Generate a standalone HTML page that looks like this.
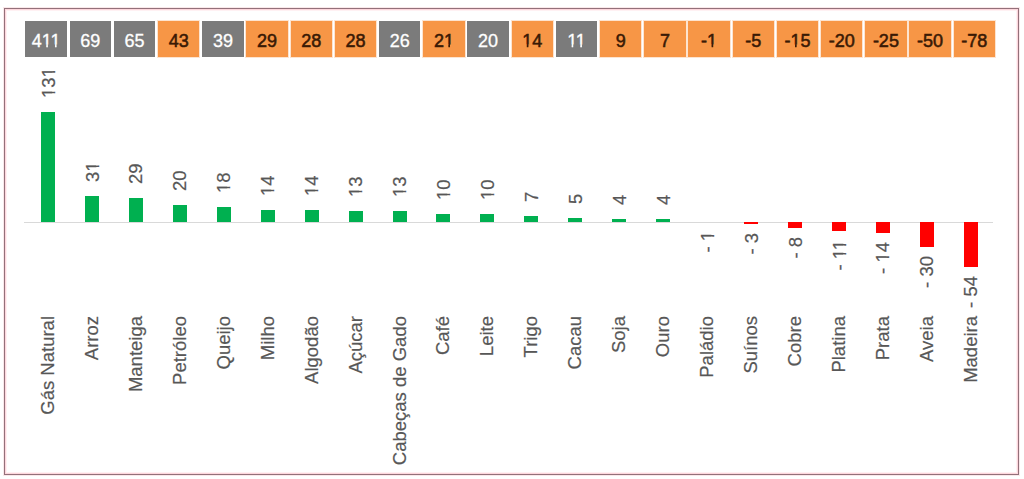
<!DOCTYPE html>
<html><head><meta charset="utf-8"><style>
html,body{margin:0;padding:0;background:#fff;}
body{width:1024px;height:479px;position:relative;overflow:hidden;font-family:"Liberation Sans",sans-serif;}
.frame{position:absolute;left:4px;top:8px;width:1013px;height:465px;border:1px solid #93707a;box-shadow:0 0 0 1px #fae8ea,inset 0 0 0 1px #fdd6dc,inset 0 0 0 2px #fff1f3;}
.bx{position:absolute;height:36.0px;top:21.0px;width:41.6px;font-size:18px;line-height:18px;font-weight:bold;text-align:center;}
.bx>span{position:absolute;left:0;right:0;top:10.6px;}
.g{background:#7b7b7b;color:#fff;font-weight:normal;-webkit-text-stroke:0.3px #fff;}
.o{background:#f79646;box-shadow:0 0 0 1px rgba(250,195,150,0.45);color:#3a1a05;font-weight:normal;-webkit-text-stroke:0.55px #3a1a05;}
.axis{position:absolute;left:24.4px;width:968.2px;top:221.5px;height:1px;background:#d9d9d9;}
.bar{position:absolute;width:14px;}
.gr{background:#00b050;}
.rd{background:#ff0000;}
.n1{clip-path:polygon(0 0,100% 0,100% 0.775em,0.3398em 0.775em,0.3398em 100%,0.2515em 100%,0.2515em 0.775em,0 0.775em);}

.lb{position:absolute;font-size:18.5px;line-height:18.0px;white-space:nowrap;color:#575757;-webkit-text-stroke:0.2px #575757;transform:rotate(-90deg);transform-origin:0 0;}
</style></head><body>
<div class="frame"></div>

<div class="bx g" style="left:25.3px"><span>4<span class="n1">1</span><span class="n1">1</span></span></div>
<div class="bx g" style="left:69.5px"><span>69</span></div>
<div class="bx g" style="left:113.7px"><span>65</span></div>
<div class="bx o" style="left:157.9px"><span>43</span></div>
<div class="bx g" style="left:202.1px"><span>39</span></div>
<div class="bx o" style="left:246.3px"><span>29</span></div>
<div class="bx o" style="left:290.5px"><span>28</span></div>
<div class="bx o" style="left:334.7px"><span>28</span></div>
<div class="bx g" style="left:378.9px"><span>26</span></div>
<div class="bx o" style="left:423.1px"><span>2<span class="n1">1</span></span></div>
<div class="bx g" style="left:467.3px"><span>20</span></div>
<div class="bx o" style="left:511.5px"><span><span class="n1">1</span>4</span></div>
<div class="bx g" style="left:555.7px"><span><span class="n1">1</span><span class="n1">1</span></span></div>
<div class="bx o" style="left:599.9px"><span>9</span></div>
<div class="bx o" style="left:644.1px"><span>7</span></div>
<div class="bx o" style="left:688.3px"><span>-<span class="n1">1</span></span></div>
<div class="bx o" style="left:732.5px"><span>-5</span></div>
<div class="bx o" style="left:776.7px"><span>-<span class="n1">1</span>5</span></div>
<div class="bx o" style="left:820.9px"><span>-20</span></div>
<div class="bx o" style="left:865.1px"><span>-25</span></div>
<div class="bx o" style="left:909.3px"><span>-50</span></div>
<div class="bx o" style="left:953.5px"><span>-78</span></div>
<div class="axis"></div>
<div class="bar gr" style="left:41.00px;top:112.16px;height:110.04px"></div>
<div class="lb" style="left:39.59px;top:97.96px"><span class="n1">1</span>3<span class="n1">1</span></div>
<div class="lb" style="left:38.99px;top:516.00px;width:200px;text-align:right">Gás Natural</div>
<div class="bar gr" style="left:84.94px;top:196.16px;height:26.04px"></div>
<div class="lb" style="left:83.53px;top:181.96px">3<span class="n1">1</span></div>
<div class="lb" style="left:82.93px;top:516.00px;width:200px;text-align:right">Arroz</div>
<div class="bar gr" style="left:128.88px;top:197.84px;height:24.36px"></div>
<div class="lb" style="left:127.47px;top:183.64px">29</div>
<div class="lb" style="left:126.87px;top:516.00px;width:200px;text-align:right">Manteiga</div>
<div class="bar gr" style="left:172.82px;top:205.40px;height:16.80px"></div>
<div class="lb" style="left:171.41px;top:191.20px">20</div>
<div class="lb" style="left:170.81px;top:516.00px;width:200px;text-align:right">Petróleo</div>
<div class="bar gr" style="left:216.76px;top:207.08px;height:15.12px"></div>
<div class="lb" style="left:215.35px;top:192.88px"><span class="n1">1</span>8</div>
<div class="lb" style="left:214.75px;top:516.00px;width:200px;text-align:right">Queijo</div>
<div class="bar gr" style="left:260.70px;top:210.44px;height:11.76px"></div>
<div class="lb" style="left:259.29px;top:196.24px"><span class="n1">1</span>4</div>
<div class="lb" style="left:258.69px;top:516.00px;width:200px;text-align:right">Milho</div>
<div class="bar gr" style="left:304.64px;top:210.44px;height:11.76px"></div>
<div class="lb" style="left:303.23px;top:196.24px"><span class="n1">1</span>4</div>
<div class="lb" style="left:302.63px;top:516.00px;width:200px;text-align:right">Algodão</div>
<div class="bar gr" style="left:348.58px;top:211.28px;height:10.92px"></div>
<div class="lb" style="left:347.17px;top:197.08px"><span class="n1">1</span>3</div>
<div class="lb" style="left:346.57px;top:516.00px;width:200px;text-align:right">Açúcar</div>
<div class="bar gr" style="left:392.52px;top:211.28px;height:10.92px"></div>
<div class="lb" style="left:391.11px;top:197.08px"><span class="n1">1</span>3</div>
<div class="lb" style="left:390.51px;top:516.00px;width:200px;text-align:right">Cabeças de Gado</div>
<div class="bar gr" style="left:436.46px;top:213.80px;height:8.40px"></div>
<div class="lb" style="left:435.05px;top:199.60px"><span class="n1">1</span>0</div>
<div class="lb" style="left:434.45px;top:516.00px;width:200px;text-align:right">Café</div>
<div class="bar gr" style="left:480.40px;top:213.80px;height:8.40px"></div>
<div class="lb" style="left:478.99px;top:199.60px"><span class="n1">1</span>0</div>
<div class="lb" style="left:478.39px;top:516.00px;width:200px;text-align:right">Leite</div>
<div class="bar gr" style="left:524.34px;top:216.32px;height:5.88px"></div>
<div class="lb" style="left:522.93px;top:202.12px">7</div>
<div class="lb" style="left:522.33px;top:516.00px;width:200px;text-align:right">Trigo</div>
<div class="bar gr" style="left:568.28px;top:218.00px;height:4.20px"></div>
<div class="lb" style="left:566.87px;top:203.80px">5</div>
<div class="lb" style="left:566.27px;top:516.00px;width:200px;text-align:right">Cacau</div>
<div class="bar gr" style="left:612.22px;top:218.84px;height:3.36px"></div>
<div class="lb" style="left:610.81px;top:204.64px">4</div>
<div class="lb" style="left:610.21px;top:516.00px;width:200px;text-align:right">Soja</div>
<div class="bar gr" style="left:656.16px;top:218.84px;height:3.36px"></div>
<div class="lb" style="left:654.75px;top:204.64px">4</div>
<div class="lb" style="left:654.15px;top:516.00px;width:200px;text-align:right">Ouro</div>
<div class="lb" style="left:698.69px;top:291.44px;width:60px;text-align:right">- <span class="n1">1</span></div>
<div class="lb" style="left:698.09px;top:516.00px;width:200px;text-align:right">Paládio</div>
<div class="bar rd" style="left:744.04px;top:221.60px;height:2.52px"></div>
<div class="lb" style="left:742.63px;top:293.12px;width:60px;text-align:right">- 3</div>
<div class="lb" style="left:742.03px;top:516.00px;width:200px;text-align:right">Suínos</div>
<div class="bar rd" style="left:787.98px;top:221.60px;height:6.72px"></div>
<div class="lb" style="left:786.57px;top:297.32px;width:60px;text-align:right">- 8</div>
<div class="lb" style="left:785.97px;top:516.00px;width:200px;text-align:right">Cobre</div>
<div class="bar rd" style="left:831.92px;top:221.60px;height:9.24px"></div>
<div class="lb" style="left:830.51px;top:299.84px;width:60px;text-align:right">- <span class="n1">1</span><span class="n1">1</span></div>
<div class="lb" style="left:829.91px;top:516.00px;width:200px;text-align:right">Platina</div>
<div class="bar rd" style="left:875.86px;top:221.60px;height:11.76px"></div>
<div class="lb" style="left:874.45px;top:302.36px;width:60px;text-align:right">- <span class="n1">1</span>4</div>
<div class="lb" style="left:873.85px;top:516.00px;width:200px;text-align:right">Prata</div>
<div class="bar rd" style="left:919.80px;top:221.60px;height:25.20px"></div>
<div class="lb" style="left:918.39px;top:315.80px;width:60px;text-align:right">- 30</div>
<div class="lb" style="left:917.79px;top:516.00px;width:200px;text-align:right">Aveia</div>
<div class="bar rd" style="left:963.74px;top:221.60px;height:45.36px"></div>
<div class="lb" style="left:962.33px;top:335.96px;width:60px;text-align:right">- 54</div>
<div class="lb" style="left:961.73px;top:516.00px;width:200px;text-align:right">Madeira</div>
</body></html>
